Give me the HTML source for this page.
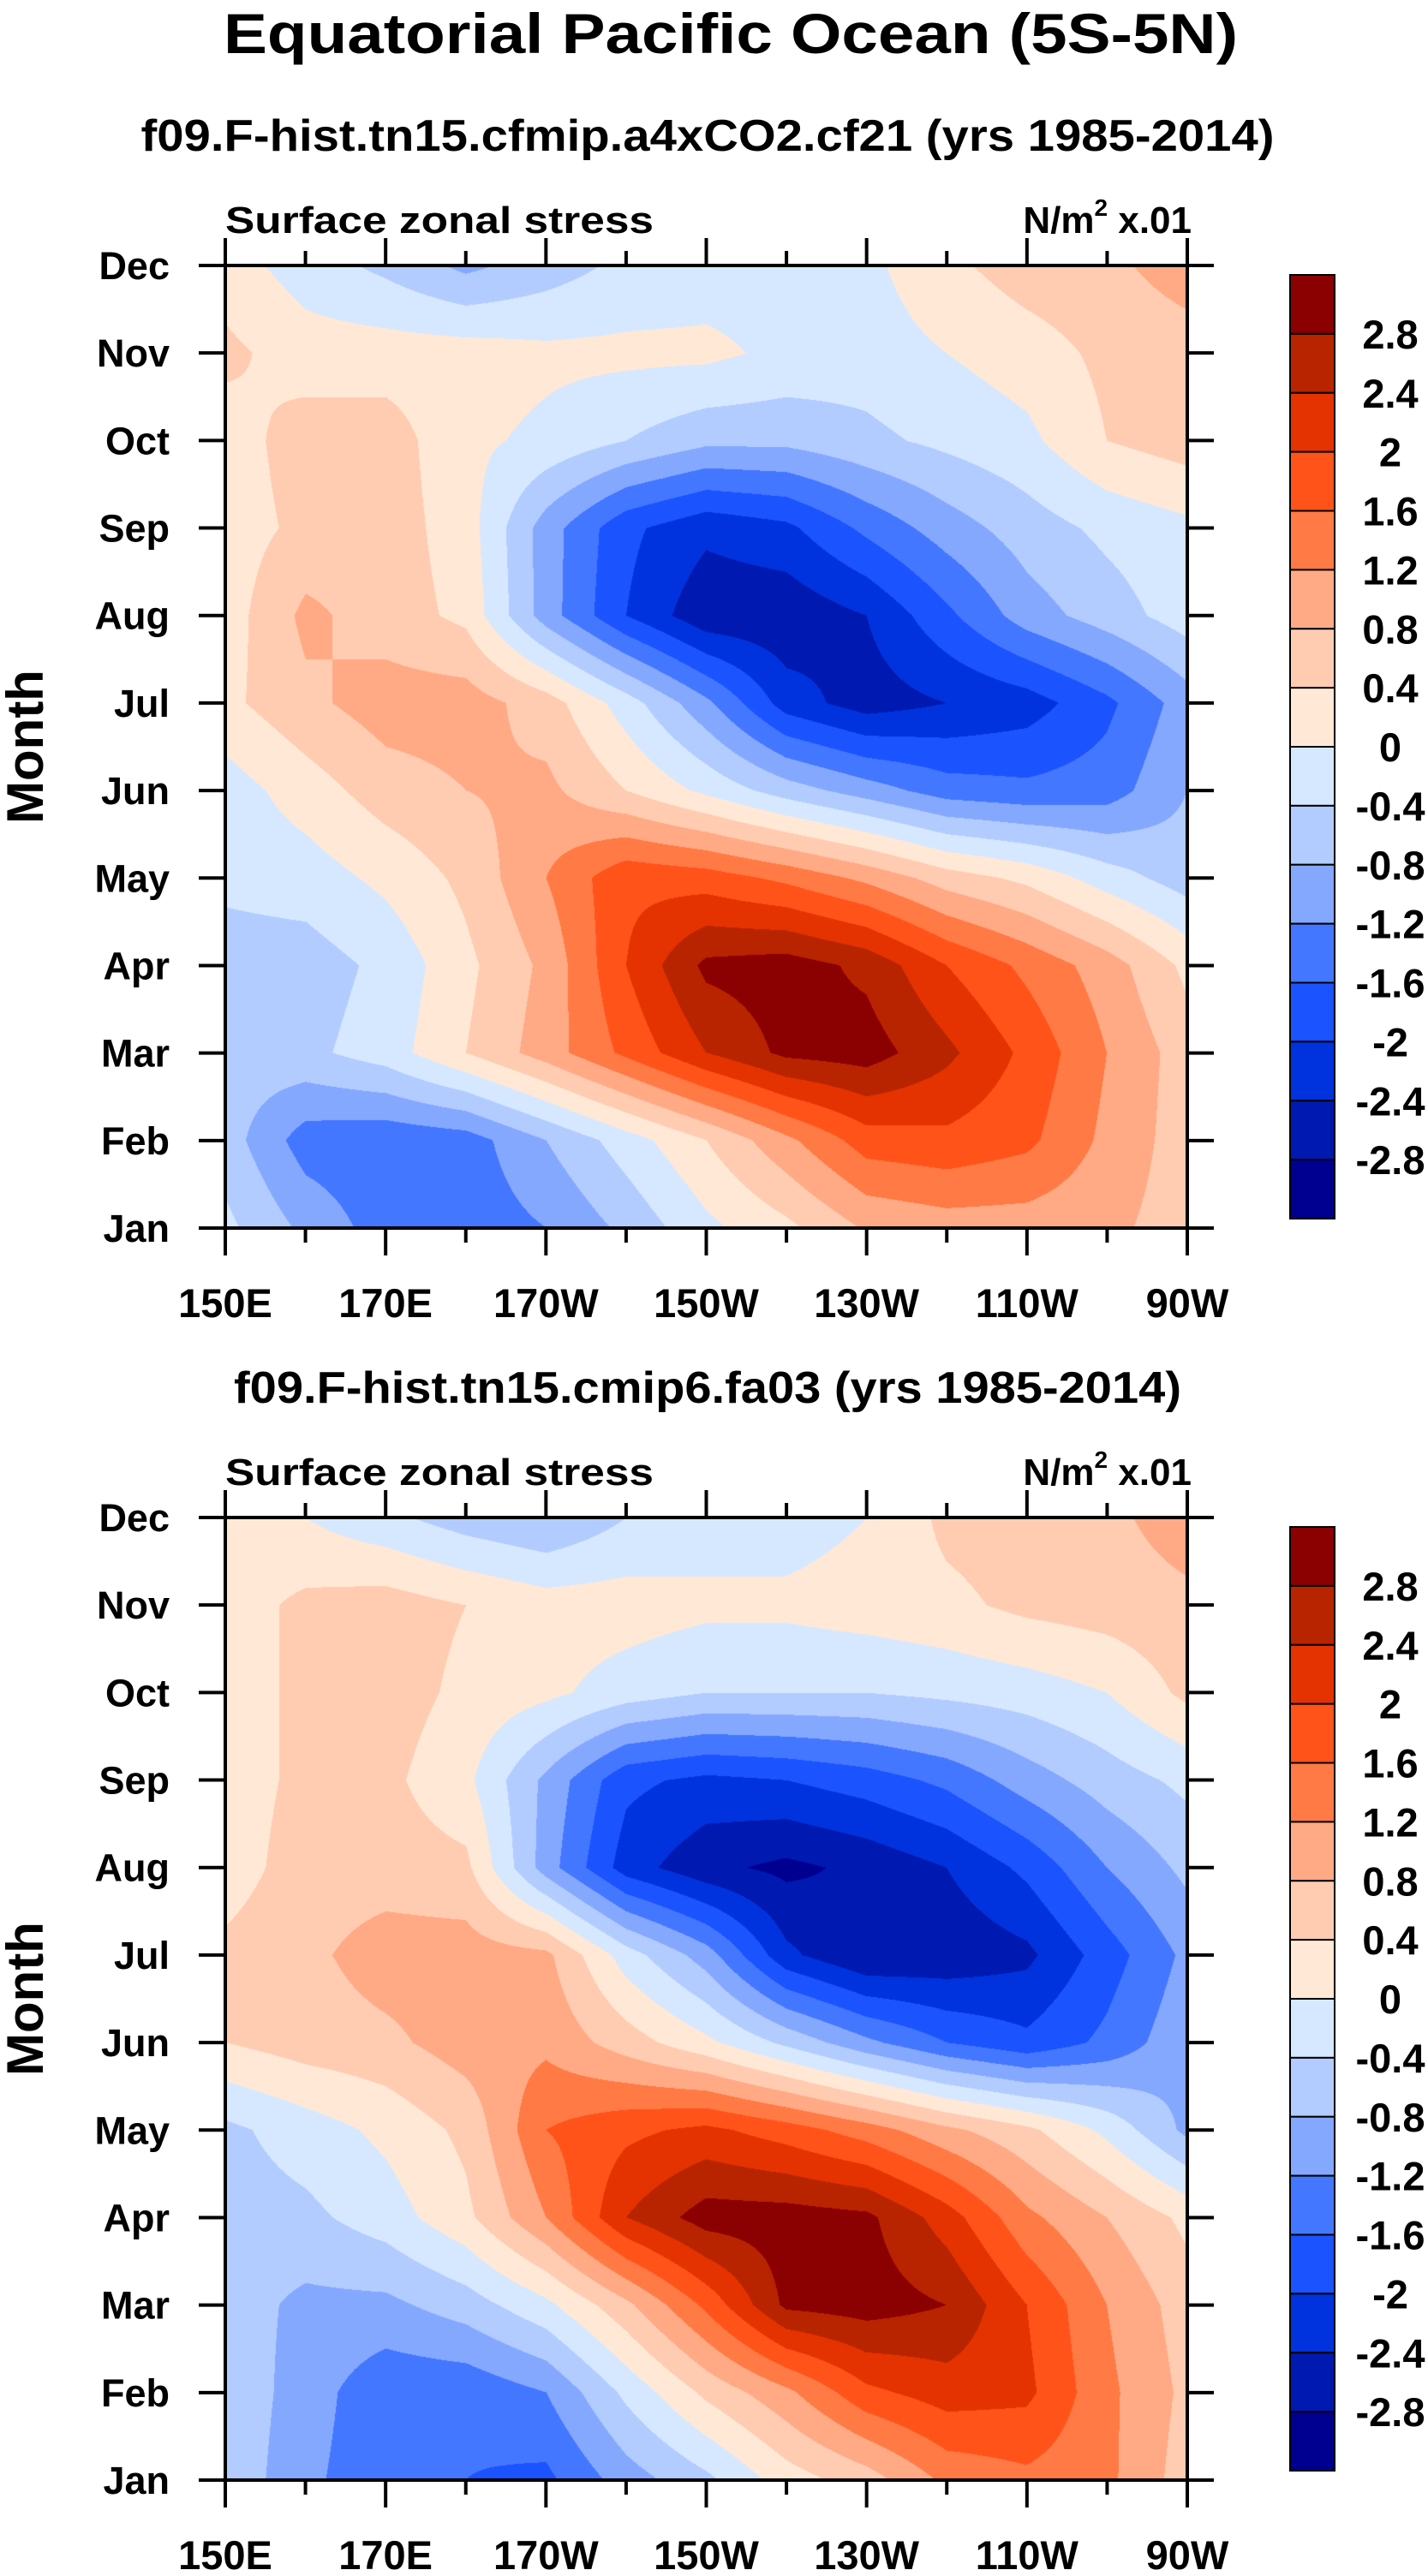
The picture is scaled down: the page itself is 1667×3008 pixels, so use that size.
<!DOCTYPE html>
<html><head><meta charset="utf-8">
<style>
html,body{margin:0;padding:0;background:#fff;}
#wrap{position:relative;width:1667px;height:3008px;overflow:hidden;background:#fff;}
canvas{position:absolute;}
svg{position:absolute;left:0;top:0;}
text{font-family:"Liberation Sans",Arial,sans-serif;font-weight:bold;fill:#000;}
</style></head>
<body>
<div id="wrap">
<canvas id="c1" width="1123" height="1124" style="left:263px;top:310px"></canvas>
<canvas id="c2" width="1123" height="1124" style="left:263px;top:1772px"></canvas>
<svg id="svg" width="1667" height="3008" xmlns="http://www.w3.org/2000/svg"></svg>
</div>
<script>
// ---- data ----
const lons = [150,160,170,180,190,200,210,220,230,240,250,260,270];
const monthLabels = ["Jan","Feb","Mar","Apr","May","Jun","Jul","Aug","Sep","Oct","Nov","Dec"];
const lonTickValues = [150,170,190,210,230,250,270];
const lonTickLabels = ["150E","170E","170W","150W","130W","110W","90W"];
const levels = [-2.8,-2.4,-2,-1.6,-1.2,-0.8,-0.4,0,0.4,0.8,1.2,1.6,2,2.4,2.8];
const levelLabels = ["2.8","2.4","2","1.6","1.2","0.8","0.4","0","-0.4","-0.8","-1.2","-1.6","-2","-2.4","-2.8"];
const colors = ["#000090","#0019b0","#0033dd","#1a53ff","#4477ff","#85a8ff","#b2ccff","#d6e8ff",
                "#ffe9d6","#ffccb2","#ffaa85","#ff7a44","#ff531a","#e53300","#b92400","#8b0000"];
// rows Jan..Dec, columns = lons
const fieldCf21 = [
 [-0.3,-0.9,-1.4,-1.45,-1.2,-0.7,-0.1,0.3,0.85,1.0,1.0,0.9,0.6],
 [-0.6,-1.4,-1.5,-1.4,-0.8,-0.2,0.4,1.1,1.8,1.9,1.7,1.1,0.6],
 [-0.6,-0.5,-0.2,0.4,1.0,1.7,2.4,2.9,3.0,2.5,1.9,1.2,0.6],
 [-0.6,-0.6,-0.3,0.3,0.9,2.0,2.9,3.0,2.7,2.0,1.5,1.0,0.3],
 [-0.3,-0.2,0.1,0.5,1.2,1.9,1.8,1.5,1.1,0.6,0.3,-0.2,-0.6],
 [-0.2,0.2,0.6,0.8,0.9,0.4,-0.1,-0.6,-1.0,-1.4,-1.5,-1.4,-0.8],
 [0.3,0.7,1.0,1.0,0.6,-0.2,-1.1,-2.2,-2.6,-2.4,-2.2,-1.7,-1.0],
 [0.2,0.9,0.6,0.3,-1.0,-2.0,-2.7,-2.7,-2.4,-1.7,-1.0,-0.6,-0.2],
 [0.2,0.5,0.6,0.2,-1.0,-1.9,-2.3,-2.1,-1.5,-1.0,-0.6,-0.3,-0.1],
 [0.2,0.6,0.6,0.1,-0.1,-0.4,-0.7,-0.7,-0.5,-0.3,-0.1,0.4,0.6],
 [0.5,0.2,0.2,0.2,0.1,0.1,0.1,-0.1,-0.2,0.0,0.2,0.5,0.6],
 [0.2,-0.2,-0.5,-0.9,-0.6,-0.3,-0.2,-0.2,-0.1,0.3,0.6,0.7,1.0]
];
const fieldFa03 = [
 [-0.5,-1.1,-1.5,-1.6,-1.7,-1.0,-0.5,0.2,0.6,1.3,1.5,1.3,0.6],
 [-0.5,-1.0,-1.5,-1.5,-1.2,-0.3,0.5,1.1,1.9,2.2,2.1,1.3,0.7],
 [-0.6,-0.9,-0.9,-0.6,-0.1,0.7,1.7,2.9,3.0,2.8,2.0,1.2,0.6],
 [-0.6,-0.5,-0.2,0.3,1.2,2.4,3.0,3.0,2.9,2.2,1.3,0.8,0.3],
 [-0.5,-0.2,0.1,0.5,1.6,1.9,2.1,1.8,1.4,0.9,0.5,-0.1,-0.9],
 [0.4,0.6,0.7,1.0,1.1,0.6,0.1,-0.5,-1.1,-1.6,-1.9,-1.5,-0.9],
 [0.5,0.7,1.0,1.0,0.9,-0.2,-1.0,-2.3,-2.8,-2.7,-2.5,-1.8,-1.1],
 [0.2,0.6,0.6,0.5,-1.0,-2.2,-2.7,-2.9,-2.7,-2.4,-1.9,-1.2,-0.7],
 [0.2,0.5,0.5,0.1,-0.9,-1.9,-2.1,-2.0,-1.8,-1.5,-1.0,-0.6,-0.3],
 [0.2,0.5,0.6,0.3,0.1,-0.2,-0.4,-0.4,-0.4,-0.3,-0.2,0.0,0.5],
 [0.2,0.5,0.6,0.4,0.2,0.2,0.1,0.1,0.2,0.3,0.5,0.6,0.7],
 [0.2,0.0,-0.3,-0.6,-0.8,-0.4,-0.2,-0.2,0.0,0.5,0.6,0.7,1.0]
];
const subtitles = ["f09.F-hist.tn15.cfmip.a4xCO2.cf21 (yrs 1985-2014)","f09.F-hist.tn15.cmip6.fa03 (yrs 1985-2014)"];

// ---- layout ----
const PL = 263, PR = 1386, PH = 1124;
const panelTops = [310, 1772];
const svgNS = "http://www.w3.org/2000/svg";
const svg = document.getElementById('svg');

function xOf(lon){ return PL + (lon - lons[0]) / (lons[lons.length-1] - lons[0]) * (PR - PL); }
function yOf(top, m){ return top + PH - m / 11 * PH; }
function colorIndex(v){ let i = 0; while (i < levels.length && v >= levels[i]) i++; return i; }
function hexToRgb(h){ return [parseInt(h.substr(1,2),16),parseInt(h.substr(3,2),16),parseInt(h.substr(5,2),16)]; }
const rgbs = colors.map(hexToRgb);

function drawField(canvasId, field){
  const cv = document.getElementById(canvasId);
  const ctx = cv.getContext('2d');
  const W = cv.width, H = cv.height;
  const img = ctx.createImageData(W, H);
  const nc = lons.length - 1;
  for (let py = 0; py < H; py++){
    const m = (H - 1 - py) / (H - 1) * 11;
    const r0 = Math.min(Math.floor(m), 10), fy = m - r0;
    for (let px = 0; px < W; px++){
      const c = px / (W - 1) * nc;
      const c0 = Math.min(Math.floor(c), nc - 1), fx = c - c0;
      const v = field[r0][c0]*(1-fx)*(1-fy) + field[r0][c0+1]*fx*(1-fy) +
                field[r0+1][c0]*(1-fx)*fy + field[r0+1][c0+1]*fx*fy;
      const col = rgbs[colorIndex(v)];
      const k = (py*W + px)*4;
      img.data[k]=col[0]; img.data[k+1]=col[1]; img.data[k+2]=col[2]; img.data[k+3]=255;
    }
  }
  ctx.putImageData(img, 0, 0);
}
drawField('c1', fieldCf21);
drawField('c2', fieldFa03);

function mk(tag, attrs, parent){
  const e = document.createElementNS(svgNS, tag);
  for (const k in attrs) e.setAttribute(k, attrs[k]);
  (parent || svg).appendChild(e);
  return e;
}
function txt(str, x, y, size, anchor, parent){
  const t = mk('text', {x:x, y:y, 'font-size':size, 'text-anchor':anchor||'start'}, parent);
  t.textContent = str;
  return t;
}

// main title
const mt = txt("Equatorial Pacific Ocean (5S-5N)", 853, 62, 66, 'middle');
mt.setAttribute('textLength', 1184);
mt.setAttribute('lengthAdjust', 'spacingAndGlyphs');



panelTops.forEach(function(top, p){
  const off = top - panelTops[0];
  const g = mk('g', {});
  
  

  const st = txt(subtitles[p], 826, 176 + off, 52, 'middle', g);
  
  
  if (p === 0){ st.setAttribute('textLength', 1323); st.setAttribute('lengthAdjust','spacingAndGlyphs'); }
  else { st.setAttribute('textLength', 1106); st.setAttribute('lengthAdjust','spacingAndGlyphs'); }

  const ls = txt("Surface zonal stress", 263, 272 + off, 44, 'start', g);
  
  
  ls.setAttribute('textLength', 500); ls.setAttribute('lengthAdjust','spacingAndGlyphs');

  const rs = mk('text', {x:1391, y:272+off, 'font-size':44, 'text-anchor':'end'}, g);
  
  
  rs.innerHTML = 'N/m<tspan font-size="28" dy="-20">2</tspan><tspan dy="20"> x.01</tspan>';

  // y axis title
  const yt = txt("Month", 0, 0, 60, 'middle', g);
  yt.setAttribute('transform', 'translate(50,' + (top + PH/2) + ') rotate(-90)');
  
  

  // frame
  const fr = mk('rect', {x:PL, y:top, width:PR-PL, height:PH, fill:'none', stroke:'#000', 'stroke-width':4}, g);
  
  

  // month ticks + labels
  monthLabels.forEach(function(lab, m){
    const y = yOf(top, m);
    mk('line', {x1:PL-31, y1:y, x2:PL, y2:y, stroke:'#000', 'stroke-width':4}, g);
    mk('line', {x1:PR, y1:y, x2:PR+31, y2:y, stroke:'#000', 'stroke-width':4}, g);
    const t = txt(lab, 198, y + 16, 45, 'end', g);
    
    
  });
  // lon ticks
  lons.forEach(function(lon){
    const x = xOf(lon);
    const major = lonTickValues.indexOf(lon) >= 0;
    const len = major ? 32 : 17;
    mk('line', {x1:x, y1:top-len, x2:x, y2:top, stroke:'#000', 'stroke-width':4}, g);
    mk('line', {x1:x, y1:top+PH, x2:x, y2:top+PH+len, stroke:'#000', 'stroke-width':4}, g);
  });
  lonTickValues.forEach(function(lon, i){
    const t = txt(lonTickLabels[i], xOf(lon), top + PH + 104, 47, 'middle', g);
    
    
  });

  // colorbar
  const cbTop = 321 + off, cbBot = 1423 + off, cbL = 1506, cbW = 52;
  const bh = (cbBot - cbTop) / colors.length;
  const cb = mk('g', {}, g);
  
  
  for (let i = 0; i < colors.length; i++){
    const col = colors[colors.length - 1 - i];
    const r = mk('rect', {x:cbL, y:cbTop + i*bh, width:cbW, height:bh, fill:col, stroke:'#000', 'stroke-width':2}, cb);
    
    
  }
  levelLabels.forEach(function(lab, i){
    const t = txt(lab, 1623, cbTop + (i+1)*bh + 17, 47, 'middle', cb);
    
    
  });
});
</script>
</body></html>
